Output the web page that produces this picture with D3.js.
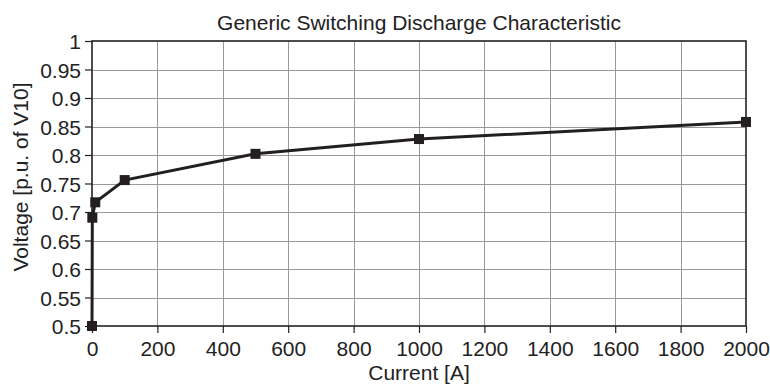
<!DOCTYPE html>
<html><head><meta charset="utf-8">
<script src="https://cdn.jsdelivr.net/npm/d3@7"></script>
<style>body{margin:0;background:#fff}svg{display:block}text{font-family:"Liberation Sans",Arial,sans-serif;fill:#222}</style>
</head><body>
<svg id="c" width="770" height="386"></svg>
<script>
const currents = [0, 1, 10, 100, 500, 1000, 2000];
const voltages = [0.5, 0.69, 0.717, 0.756, 0.802, 0.828, 0.858];
const xTicks = [0,200,400,600,800,1000,1200,1400,1600,1800,2000];
const yTicks = [0.5,0.55,0.6,0.65,0.7,0.75,0.8,0.85,0.9,0.95,1];
const title = "Generic Switching Discharge Characteristic";
const xTitle = "Current [A]";
const yTitle = "Voltage [p.u. of V10]";

const svg = d3.select("#c");
const m = {l:92, r:746, t:41, b:326};
const x = d3.scaleLinear().domain([0,2000]).range([m.l,m.r]);
const y = d3.scaleLinear().domain([0.5,1]).range([m.b,m.t]);
const fs = 21;

// grid
svg.append("g").selectAll("line").data(xTicks.slice(1,-1)).join("line")
  .attr("x1",d=>Math.round(x(d))+0.5).attr("x2",d=>Math.round(x(d))+0.5)
  .attr("y1",m.t).attr("y2",m.b).attr("stroke","#999").attr("stroke-width",1);
svg.append("g").selectAll("line").data(yTicks.slice(1,-1)).join("line")
  .attr("y1",d=>Math.round(y(d))+0.5).attr("y2",d=>Math.round(y(d))+0.5)
  .attr("x1",m.l).attr("x2",m.r).attr("stroke","#999").attr("stroke-width",1);

// axes
const xa = svg.append("g").attr("transform",`translate(0,${m.b})`)
  .call(d3.axisBottom(x).tickValues(xTicks).tickFormat(d3.format("d")).tickSize(7).tickSizeOuter(0));
const ya = svg.append("g").attr("transform",`translate(${m.l},0)`)
  .call(d3.axisLeft(y).tickValues(yTicks).tickFormat(d=>String(+d.toFixed(2))).tickSize(7).tickSizeOuter(0));
[xa,ya].forEach(a=>{
  a.select(".domain").remove();
  a.selectAll("line").attr("stroke","#222").attr("stroke-width",1.2);
  a.selectAll("text").attr("font-size",fs).attr("font-family",null).style("fill","#222");
});
xa.selectAll("text").attr("dy",0).attr("y",30);
ya.selectAll("text").attr("x",-11).attr("dy","0.36em");

// frame
svg.append("rect").attr("x",m.l).attr("y",m.t).attr("width",m.r-m.l).attr("height",m.b-m.t)
  .attr("fill","none").attr("stroke","#222").attr("stroke-width",1.6);

// line
const pts = currents.map((c,i)=>[c,voltages[i]]);
svg.append("path").datum(pts)
  .attr("d",d3.line().x(d=>x(d[0])).y(d=>y(d[1])))
  .attr("fill","none").attr("stroke","#231f20").attr("stroke-width",3);
const ms = 10;
svg.append("g").selectAll("rect").data(pts).join("rect")
  .attr("x",d=>x(d[0])-ms/2).attr("y",d=>y(d[1])-ms/2).attr("width",ms).attr("height",ms)
  .attr("fill","#231f20");

// titles
svg.append("text").attr("x",419).attr("y",30).attr("text-anchor","middle").attr("font-size",fs).text(title);
svg.append("text").attr("x",419).attr("y",380).attr("text-anchor","middle").attr("font-size",fs).text(xTitle);
svg.append("text").attr("transform",`translate(28,177) rotate(-90)`).attr("text-anchor","middle").attr("font-size",fs).text(yTitle);
</script>
</body></html>
